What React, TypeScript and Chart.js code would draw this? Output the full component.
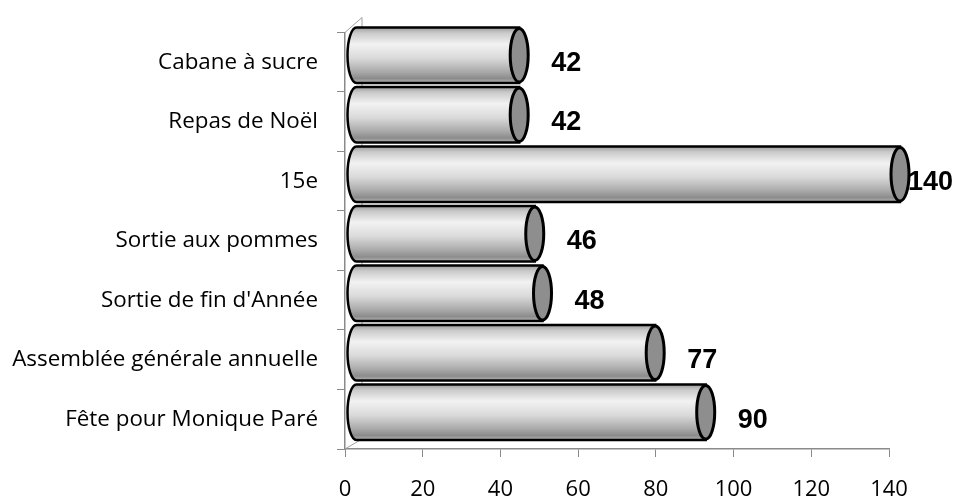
import React, { useEffect, useRef } from "react";
import { Chart, registerables } from "chart.js";

Chart.register(...registerables);

const categories = [
  "Cabane à sucre",
  "Repas de Noël",
  "15e",
  "Sortie aux pommes",
  "Sortie de fin d'Année",
  "Assemblée générale annuelle",
  "Fête pour Monique Paré",
];
const participants = [42, 42, 140, 46, 48, 77, 90];
const xMin = 0;
const xMax = 140;
const xStep = 20;

const AXIS_GRAY = "#8a8a8a";

const cylinderPlugin = {
  id: "cylinders",
  beforeDatasetsDraw(chart: any) {
    const { ctx, chartArea } = chart;
    const x0 = chartArea.left;
    ctx.save();
    ctx.strokeStyle = "#a0a0a0";
    ctx.lineWidth = 1;
    ctx.beginPath();
    ctx.moveTo(x0, chartArea.top);
    ctx.lineTo(x0 + 17, chartArea.top - 15);
    ctx.lineTo(x0 + 17, chartArea.bottom - 10);
    ctx.lineTo(x0, chartArea.bottom);
    ctx.stroke();
    ctx.restore();
  },
  afterDatasetsDraw(chart: any) {
    const { ctx } = chart;
    const meta = chart.getDatasetMeta(0);
    const dx = 11;
    const dy = -7;
    const rx = 9;
    meta.data.forEach((bar: any, i: number) => {
      const p = bar.getProps(["x", "y", "base", "height"], true);
      const cy = p.y + dy;
      const h = p.height;
      const top = cy - h / 2;
      const bottom = cy + h / 2;
      const cx0 = p.base + dx;
      const cx1 = p.x + dx;
      const ry = h / 2;

      ctx.save();
      const g = ctx.createLinearGradient(0, top, 0, bottom);
      g.addColorStop(0, "#9c9c9c");
      g.addColorStop(0.1, "#cacaca");
      g.addColorStop(0.3, "#f2f2f2");
      g.addColorStop(0.55, "#dadada");
      g.addColorStop(0.8, "#a9a9a9");
      g.addColorStop(0.92, "#8c8c8c");
      g.addColorStop(1, "#b4b4b4");

      ctx.beginPath();
      ctx.moveTo(cx1, top);
      ctx.lineTo(cx0, top);
      ctx.ellipse(cx0, cy, rx, ry, 0, -Math.PI / 2, Math.PI / 2, true);
      ctx.lineTo(cx1, bottom);
      ctx.closePath();
      ctx.fillStyle = g;
      ctx.fill();
      ctx.lineWidth = 2.5;
      ctx.strokeStyle = "#000";
      ctx.stroke();

      ctx.beginPath();
      ctx.ellipse(cx1, cy, rx, ry - 1, 0, 0, Math.PI * 2);
      ctx.fillStyle = "#8e8e8e";
      ctx.fill();
      ctx.lineWidth = 3;
      ctx.stroke();
      ctx.restore();

      // value label
      ctx.save();
      ctx.font = "bold 27px 'Liberation Sans', Arial, sans-serif";
      ctx.fillStyle = "#000";
      ctx.textAlign = "center";
      ctx.textBaseline = "middle";
      const w = ctx.measureText(String(participants[i])).width;
      let lx = p.x + 58;
      const maxX = chart.width - w / 2 - 3;
      if (lx > maxX) lx = maxX;
      ctx.fillText(String(participants[i]), lx, p.y + 1);
      ctx.restore();
    });
  },
};

export default function App() {
  const ref = useRef<HTMLCanvasElement | null>(null);

  useEffect(() => {
    if (!ref.current) return;
    const chart = new Chart(ref.current, {
      type: "bar",
      data: {
        labels: categories,
        datasets: [
          {
            data: participants,
            backgroundColor: "rgba(0,0,0,0)",
            borderWidth: 0,
            barPercentage: 0.933,
            categoryPercentage: 1,
          },
        ],
      },
      options: {
        indexAxis: "y",
        animation: false,
        responsive: false,
        maintainAspectRatio: false,
        layout: { padding: { top: 29, right: 67, left: 0, bottom: 0 } },
        plugins: {
          legend: { display: false },
          tooltip: { enabled: false },
        },
        scales: {
          x: {
            min: xMin,
            max: xMax,
            ticks: {
              stepSize: xStep,
              color: "#000",
              padding: 20,
              maxRotation: 0,
              font: { family: "'Open Sans'", size: 22 },
            },
            grid: {
              drawOnChartArea: false,
              drawTicks: true,
              tickLength: 8,
              color: AXIS_GRAY,
            },
            border: { color: AXIS_GRAY, width: 1.5 },
            afterFit: (scale: any) => {
              scale.height = 50;
            },
          },
          y: {
            ticks: {
              color: "#000",
              padding: 19,
              font: { family: "'Open Sans'", size: 22.4 },
            },
            grid: {
              offset: true,
              drawOnChartArea: false,
              drawTicks: true,
              tickLength: 8,
              color: AXIS_GRAY,
            },
            border: { color: AXIS_GRAY, width: 1.5 },
            afterFit: (scale: any) => {
              scale.width = 345;
            },
          },
        },
      },
      plugins: [cylinderPlugin],
    });
    return () => chart.destroy();
  }, []);

  return (
    <div style={{ position: "fixed", left: 0, top: 0, width: 956, height: 499, background: "#fff" }}>
      <canvas ref={ref} width={956} height={499} style={{ display: "block" }} />
    </div>
  );
}
